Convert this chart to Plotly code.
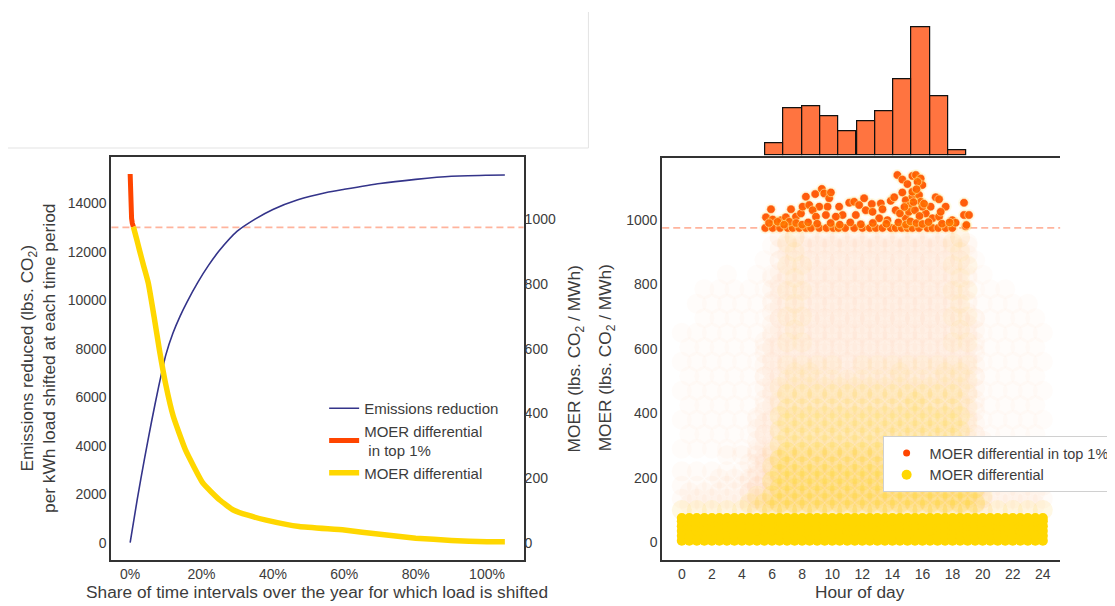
import plotly.graph_objects as go

# ---------------- data: left panel ----------------
share_x = [0, 0.02, 0.04, 0.06, 0.08, 0.10, 0.12, 0.14, 0.16, 0.19, 0.22, 0.25,
           0.30, 0.35, 0.40, 0.47, 0.55, 0.60, 0.70, 0.80, 0.90, 1.00, 1.05]
emissions = [0, 1800, 3450, 5000, 6450, 7750, 8650, 9350, 9950, 10750, 11450, 12050,
             12850, 13350, 13750, 14150, 14450, 14580, 14820, 14990, 15120, 15160, 15170]

top_share = [0, 0.001, 0.002, 0.004, 0.006, 0.009]
top_moer = [1140, 1080, 1035, 1003, 988, 977]

diff_share = [0.009, 0.018, 0.026, 0.038, 0.051, 0.067, 0.082, 0.099, 0.121, 0.155, 0.204,
              0.251, 0.289, 0.33, 0.381, 0.474, 0.60, 0.70, 0.80, 0.90, 1.00, 1.05]
diff_moer = [977, 940, 905, 855, 802, 699, 596, 493, 390, 287, 184,
             132, 101, 85, 70, 50, 39, 26, 14, 7, 3, 3]

threshold = 975
share_ticks = [0, 0.2, 0.4, 0.6, 0.8, 1.0]
share_ticktext = ["0%", "20%", "40%", "60%", "80%", "100%"]
emis_ticks = [0, 2000, 4000, 6000, 8000, 10000, 12000, 14000]
moer_ticks = [0, 200, 400, 600, 800, 1000]
hour_ticks = [0, 2, 4, 6, 8, 10, 12, 14, 16, 18, 20, 22, 24]

# ---------------- data: right panel ----------------
cloud_hours = [0, 0.5, 1, 1.5, 2, 2.5, 3, 3.5, 4, 4.5, 5, 5.5, 6, 6.5, 7, 7.5, 8, 8.5,
               9, 9.5, 10, 10.5, 11, 11.5, 12, 12.5, 13, 13.5, 14, 14.5, 15, 15.5, 16,
               16.5, 17, 17.5, 18, 18.5, 19, 19.5, 20, 20.5, 21, 21.5, 22, 22.5, 23, 23.5, 24]
band_levels = [5, 20, 35, 50, 65, 75]
haze_levels_a = [100, 135, 175, 220, 270]
haze_levels_b = [118, 155, 198, 245]
haze_top = [230, 180, 220, 160, 250, 200, 270, 230, 280, 250, 320, 300,
            340, 340, 340, 340, 340, 340, 340, 340, 340, 340, 340, 340, 340, 340, 340,
            340, 340, 340, 340, 340, 340, 340, 340, 340, 340, 340, 340,
            320, 280, 230, 250, 200, 230, 180, 220, 170, 200]
sparse_levels_a = [290, 380, 470, 560, 650, 740, 830, 920]
sparse_levels_b = [335, 425, 515, 605, 695, 785, 875, 945]
sparse_top = [700, 650, 750, 800, 820, 800, 850, 820, 800, 850, 900, 940,
              945, 945, 945, 945, 945, 945, 945, 945, 945, 945, 945, 945, 945, 945, 945,
              945, 945, 945, 945, 945, 945, 945, 945, 945, 945, 945, 945,
              940, 900, 850, 800, 820, 780, 750, 800, 760, 700]
dense_levels_a = [100, 136, 172, 208, 244, 280, 316, 352, 388, 424, 460, 496, 532, 568,
                  604, 640, 676, 712, 748, 784, 820, 856, 892, 928]
dense_levels_b = [118, 154, 190, 226, 262, 298, 334, 370, 406, 442, 478, 514, 550, 586,
                  622, 658, 694, 730, 766, 802, 838, 874, 910, 946]
dense_top = [0, 0, 0, 0, 0, 0, 0, 0, 0, 200, 420, 650, 850, 950,
             950, 950, 950, 950, 950, 950, 950, 950, 950, 950, 950, 950,
             950, 950, 950, 950, 950, 950, 950, 950, 950, 950, 950, 950,
             950, 700, 350, 0, 0, 0, 0, 0, 0, 0, 0]
yellow_levels_a = [100, 145, 190, 235, 280, 325, 370, 415, 460, 505, 550, 620, 700, 780, 860, 930]
yellow_levels_b = [122, 167, 212, 257, 302, 347, 392, 437, 482, 527, 660, 740, 820, 900, 945]
yellow_top_base = [130, 110, 130, 110, 130, 110, 140, 120, 140, 130, 150, 150, 190, 260,
                   290, 240, 300, 230, 280, 250, 310, 240, 290, 230, 300, 250,
                   280, 240, 310, 250, 290, 230, 300, 240, 280, 250, 300, 240,
                   220, 170, 150, 120, 140, 120, 140, 110, 130, 110, 130]
yellow_top_low = [0, 0, 0, 0, 0, 0, 0, 0, 0, 0, 0, 150, 250, 400,
                  470, 420, 490, 400, 460, 430, 500, 410, 470, 400, 480, 430,
                  460, 410, 490, 420, 470, 440, 500, 420, 460, 410, 480, 430,
                  320, 200, 0, 0, 0, 0, 0, 0, 0, 0, 0]
yellow_top_mid = [0, 0, 0, 0, 0, 0, 0, 0, 0, 0, 0, 0, 300, 500, 945, 945, 900, 600, 560,
                  520, 560, 500, 540, 500, 560, 510, 560, 520, 580, 530, 560, 510, 570, 520, 560,
                  620, 945, 945, 900, 300, 0, 0, 0, 0, 0, 0, 0, 0, 0]

top_hours = [5.55, 6.04, 6.53, 7.04, 7.37, 7.81, 8.25, 8.59, 9.14, 9.62, 10.07, 10.42,
             10.86, 11.46, 12.01, 12.5, 12.9, 13.34, 13.89, 14.22, 14.62, 15.0, 15.33,
             15.77, 16.33, 16.66, 17.05, 17.54, 17.98, 18.87,
             5.93, 5.60, 6.04, 6.59, 6.92, 7.26, 7.59, 7.92, 8.03, 8.25, 8.47, 8.87, 9.31,
             9.47, 9.80, 9.91, 9.69, 9.14, 8.70, 10.46, 10.69, 11.13, 11.46, 11.79, 12.12,
             12.23, 12.63, 12.68, 13.23, 13.34, 13.89, 14.12, 14.22, 14.66, 14.89, 15.11,
             15.33, 15.77, 15.88, 16.22, 14.33, 14.66, 15.0, 15.33, 15.56, 15.88, 15.99,
             15.67, 15.33, 15.99, 16.54, 16.88, 17.1, 17.54, 17.98, 18.2, 18.76, 18.76,
             19.09, 18.92, 11.57, 10.24, 9.58, 8.92, 6.37, 7.15, 13.12, 13.67, 14.89,
             16.66, 17.1, 17.21,
             7.6, 8.0, 8.4, 9.0, 9.9, 10.5, 11.2, 11.9, 12.7, 13.6, 14.4, 14.9, 15.2, 15.6,
             16.0, 16.4, 17.3, 17.8, 6.8, 5.8, 14.5, 15.1, 15.5, 15.8, 16.1, 14.8, 15.4, 15.6]
top_values = [975, 975, 975, 975, 975, 975, 975, 975, 975, 975, 975, 975,
              975, 975, 975, 975, 975, 975, 975, 975, 975, 975, 975,
              975, 975, 975, 975, 975, 975, 980,
              1033, 1008, 1001, 999, 1008, 1033, 1010, 1020, 1041, 1072, 1046, 1080, 1096,
              1082, 1067, 1085, 1041, 1041, 1030, 1041, 1015, 1053, 1056, 1046, 1067,
              1030, 1049, 1025, 1051, 1033, 1059, 1070, 1030, 1085, 1061, 1043,
              1072, 1077, 1056, 1020, 1139, 1125, 1111, 1136, 1139, 1128, 1108,
              1118, 1087, 1041, 1041, 1070, 1064, 1041, 999, 991, 1053, 1015,
              1015, 984, 1015, 1010, 1015, 1010, 994, 994, 1005, 999, 1005,
              1005, 1010, 1025,
              990, 985, 992, 988, 990, 985, 992, 986, 990, 988, 992, 985, 995, 990,
              987, 993, 988, 992, 985, 990, 1020, 1025, 1030, 1012, 1050, 1040, 1055, 1095]

hist_centers = [6.16, 7.37, 8.59, 9.81, 11.02, 12.24, 13.45, 14.67, 15.89, 17.10, 18.32]
hist_counts = [5, 19, 20, 16, 10, 14, 18, 31, 52, 24, 2]

# ---------------- styling ----------------
FONT = "Liberation Sans, Arial, sans-serif"
TXT = "#3c3c3c"
AX = "#333333"
BLUE = "#34348a"
RED = "#FF4500"
GOLD = "#FFD700"
PEACH = "rgb(255,170,100)"
DASH_C = "rgba(255,140,105,0.65)"
W, H = 1107, 598   # page body keeps an 8px margin inside the 1115x606 window


def px_x(p):
    return (p - 8) / W


def px_y(p):
    return 1 - (p - 8) / H


def grid(hours, levels_a, levels_b, tops=None):
    xs, ys = [], []
    for i, h in enumerate(hours):
        levels = levels_a if i % 2 == 0 else levels_b
        for v in levels:
            if tops is None or v <= tops[i]:
                xs.append(h)
                ys.append(v)
    return xs, ys


def cloud(xs, ys, color, size, opacity):
    return go.Scatter(x=xs, y=ys, mode="markers", showlegend=False, hoverinfo="skip",
                      marker=dict(size=size, color=color, opacity=opacity, line=dict(width=0)),
                      xaxis="x2", yaxis="y3")


fig = go.Figure()

# left panel
fig.add_trace(go.Scatter(x=share_x, y=emissions, mode="lines", name="Emissions reduction",
                         line=dict(color=BLUE, width=1.6, shape="spline", smoothing=0.6),
                         xaxis="x", yaxis="y", legend="legend"))
fig.add_trace(go.Scatter(x=top_share, y=top_moer, mode="lines",
                         name="MOER differential<br> in top 1%",
                         line=dict(color=RED, width=5), xaxis="x", yaxis="y2", legend="legend"))
fig.add_trace(go.Scatter(x=diff_share, y=diff_moer, mode="lines", name="MOER differential",
                         line=dict(color=GOLD, width=5.5, shape="spline", smoothing=0.4),
                         xaxis="x", yaxis="y2", legend="legend"))

# right panel cloud
fig.add_trace(cloud(*grid(cloud_hours, sparse_levels_a, sparse_levels_b, sparse_top), PEACH, 20, 0.03))
fig.add_trace(cloud(*grid(cloud_hours, haze_levels_a, haze_levels_b, haze_top), PEACH, 20, 0.045))
fig.add_trace(cloud(*grid(cloud_hours, dense_levels_a, dense_levels_b, dense_top), PEACH, 20, 0.045))
fig.add_trace(cloud(*grid(cloud_hours, yellow_levels_a, yellow_levels_b, yellow_top_mid), GOLD, 20, 0.045))
fig.add_trace(cloud(*grid(cloud_hours, yellow_levels_a, yellow_levels_b, yellow_top_low), GOLD, 20, 0.06))
fig.add_trace(cloud(*grid(cloud_hours, yellow_levels_a, yellow_levels_b, yellow_top_base), GOLD, 20, 0.08))
fig.add_trace(cloud(*grid(cloud_hours, band_levels, band_levels), GOLD, 10, 1))
fig.add_trace(go.Scatter(x=top_hours, y=top_values, mode="markers", showlegend=False, hoverinfo="skip",
                         marker=dict(size=8.5, color=RED, opacity=0.95,
                                     line=dict(width=0.7, color="rgba(255,255,255,0.8)")),
                         xaxis="x2", yaxis="y3"))
fig.add_trace(cloud(top_hours, top_values, GOLD, 12, 0.10))
# legend entries for right panel
fig.add_trace(go.Scatter(x=[None], y=[None], mode="markers", name="MOER differential in top 1%",
                         marker=dict(size=7, color=RED), xaxis="x2", yaxis="y3", legend="legend2"))
fig.add_trace(go.Scatter(x=[None], y=[None], mode="markers", name="MOER differential",
                         marker=dict(size=10, color=GOLD), xaxis="x2", yaxis="y3", legend="legend2"))

# histogram
fig.add_trace(go.Bar(x=hist_centers, y=hist_counts, width=1.216, showlegend=False,
                     marker=dict(color="rgba(255,69,0,0.75)", line=dict(color="#111111", width=1.2)),
                     xaxis="x3", yaxis="y4"))

tickfont = dict(family=FONT, size=14, color=TXT)
fig.update_layout(
    width=W, height=H, margin=dict(l=0, r=0, t=0, b=0),
    paper_bgcolor="white", plot_bgcolor="white", bargap=0,
    font=dict(family=FONT, color=TXT),
    xaxis=dict(domain=[px_x(111.7), px_x(525)], range=[-0.0525, 1.1025], anchor="y",
               tickvals=share_ticks, ticktext=share_ticktext, tickfont=tickfont,
               showline=True, mirror=True, linecolor=AX, linewidth=2,
               showgrid=False, zeroline=False, ticks=""),
    yaxis=dict(domain=[px_y(560), px_y(156.7)], range=[-714, 15924], anchor="x",
               tickvals=emis_ticks, tickformat="d", tickfont=tickfont,
               showline=True, mirror=True, linecolor=AX, linewidth=2,
               showgrid=False, zeroline=False, ticks=""),
    yaxis2=dict(overlaying="y", side="right", anchor="x", range=[-53.5, 1193.6],
                tickvals=moer_ticks, tickformat="d", tickfont=tickfont, showline=False,
                showgrid=False, zeroline=False, ticks=""),
    xaxis2=dict(domain=[px_x(664), px_x(1063)], range=[-1.3, 25.15], anchor="y3",
                tickvals=hour_ticks, tickfont=tickfont, showline=True, linecolor=AX,
                linewidth=2, showgrid=False, zeroline=False, ticks=""),
    yaxis3=dict(domain=[px_y(560), px_y(155.7)], range=[-55, 1199], anchor="x2",
                tickvals=moer_ticks, tickformat="d", tickfont=tickfont, showline=True,
                linecolor=AX, linewidth=2, showgrid=False, zeroline=False, ticks=""),
    xaxis3=dict(domain=[px_x(664), px_x(1063)], range=[-1.3, 25.15], anchor="y4",
                showticklabels=False, showline=True, linecolor=AX, linewidth=2,
                showgrid=False, zeroline=False, ticks=""),
    yaxis4=dict(domain=[px_y(155.7), px_y(21.3)], range=[0, 54.4], anchor="x3", visible=False),
    legend=dict(x=px_x(325), y=px_y(392), xanchor="left", yanchor="top",
                bgcolor="rgba(0,0,0,0)", borderwidth=0,
                font=dict(family=FONT, size=15, color=TXT)),
    legend2=dict(x=px_x(885), y=px_y(436), xanchor="left", yanchor="top", bgcolor="white",
                 bordercolor="#d0d0d0", borderwidth=1, itemwidth=36,
                 font=dict(family=FONT, size=14.5, color=TXT)),
    shapes=[
        dict(type="line", xref="x domain", yref="y2", x0=0, x1=1, y0=threshold, y1=threshold,
             line=dict(color=DASH_C, width=1.6, dash="7px,4px"), layer="below"),
        dict(type="line", xref="x2 domain", yref="y3", x0=0, x1=1, y0=threshold, y1=threshold,
             line=dict(color=DASH_C, width=1.6, dash="7px,4px"), layer="below"),
        dict(type="line", xref="paper", yref="paper", x0=px_x(8), x1=px_x(590),
             y0=px_y(148), y1=px_y(148), line=dict(color="#e3e3e3", width=1)),
        dict(type="line", xref="paper", yref="paper", x0=px_x(590), x1=px_x(590),
             y0=px_y(148), y1=px_y(12), line=dict(color="#e3e3e3", width=1)),
    ],
    annotations=[
        dict(text="Share of time intervals over the year for which load is shifted",
             xref="paper", yref="paper", x=px_x(318), y=px_y(592), showarrow=False,
             xanchor="center", yanchor="middle", font=dict(family=FONT, size=17.3, color=TXT)),
        dict(text="Emissions reduced (lbs. CO<sub>2</sub>)<br>per kWh load shifted at each time period",
             xref="paper", yref="paper", x=px_x(38), y=px_y(358), showarrow=False, textangle=-90,
             xanchor="center", yanchor="middle", font=dict(family=FONT, size=17.3, color=TXT)),
        dict(text="MOER (lbs. CO<sub>2</sub> / MWh)",
             xref="paper", yref="paper", x=px_x(577), y=px_y(359), showarrow=False, textangle=-90,
             xanchor="center", yanchor="middle", font=dict(family=FONT, size=17.3, color=TXT)),
        dict(text="MOER (lbs. CO<sub>2</sub> / MWh)",
             xref="paper", yref="paper", x=px_x(608), y=px_y(358), showarrow=False, textangle=-90,
             xanchor="center", yanchor="middle", font=dict(family=FONT, size=17.3, color=TXT)),
        dict(text="Hour of day",
             xref="paper", yref="paper", x=px_x(862), y=px_y(592), showarrow=False,
             xanchor="center", yanchor="middle", font=dict(family=FONT, size=17.3, color=TXT)),
    ],
)

fig.write_html("out.html")
